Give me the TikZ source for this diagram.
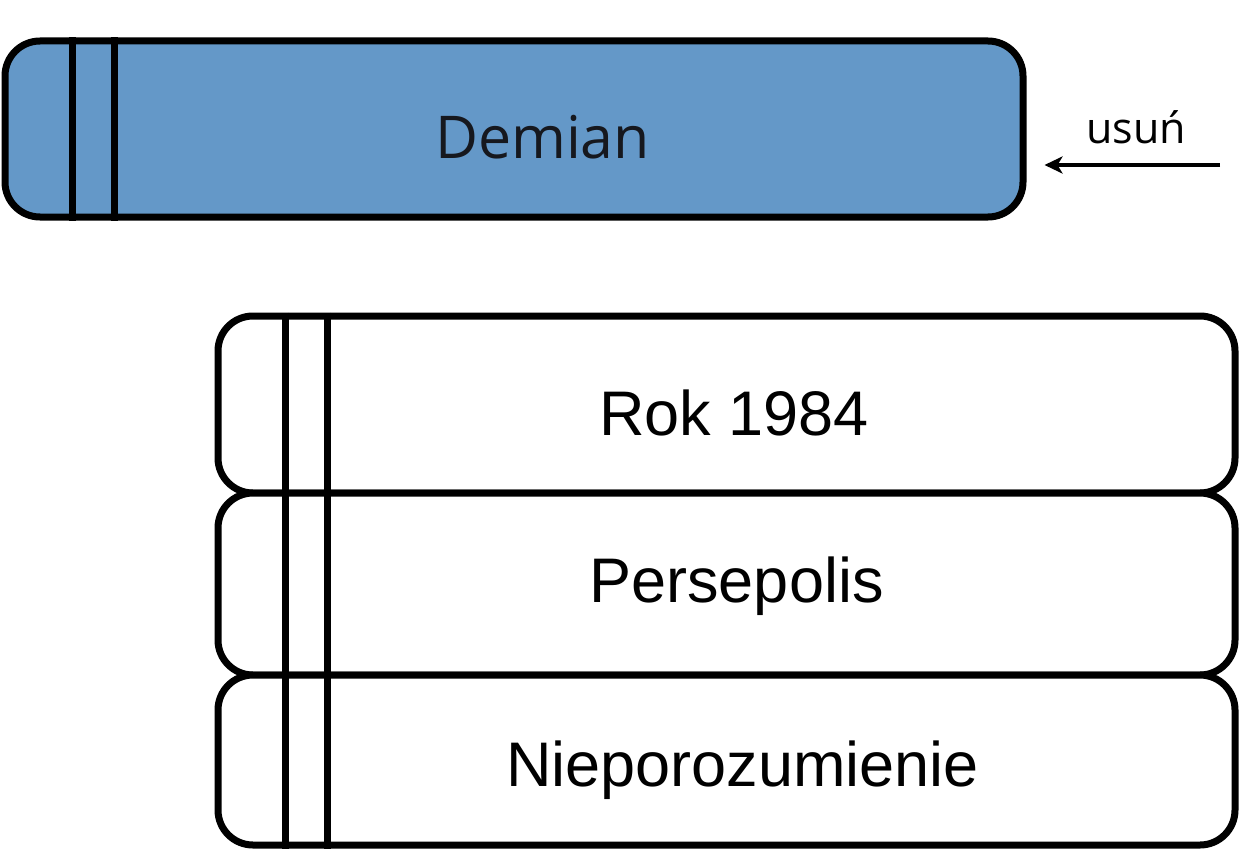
\documentclass[tikz,border=0pt]{standalone}
\usepackage{fontspec}
\setmainfont{Liberation Sans}
\newfontfamily\segoe{Open Sans}
\usetikzlibrary{arrows.meta}
\definecolor{bookblue}{RGB}{100,152,200}
\definecolor{darktext}{RGB}{22,24,30}
\tikzset{
  book/.style={draw=black, line width=7pt, rounded corners=35pt, inner sep=0pt, minimum width=1017pt},
  spine/.style={draw=black, line width=7pt},
  title/.style={anchor=base, inner sep=0pt, font=\fontsize{63}{70}\selectfont},
  arrowline/.style={draw=black, line width=3.5pt, -{Stealth[length=18pt,width=17pt,inset=5pt]}}
}
\begin{document}
\begin{tikzpicture}[x=1pt,y=-1pt]
\useasboundingbox (0,0) rectangle (1241,848);
% top book
\node[book, fill=bookblue, minimum width=1018pt, minimum height=176pt] (demian) at (514,129) {};
\draw[spine] (demian.north -| 72,0) -- (demian.south -| 72,0);
\draw[spine] (demian.north -| 114,0) -- (demian.south -| 114,0);
\node[title, font=\segoe\fontsize{59}{66}\selectfont, text=darktext] (tdemian) at (542.5,158) {Demian};
% arrow
\coordinate (astart) at (1220,165);
\draw[arrowline, shorten >=18pt] (astart) -- (demian.east |- astart);
\node[anchor=base, inner sep=0pt, font=\segoe\fontsize{43}{50}\selectfont] (usun) at (1136,143) {usuń};
% stack
\node[book, fill=white, minimum height=177pt] (b1) at (726.5,404.5) {};
\node[book, fill=white, minimum height=182pt] (b2) at (726.5,584) {};
\node[book, fill=white, minimum height=170pt] (b3) at (726.5,760) {};
\foreach \b in {b1,b2,b3}{
  \draw[spine] (\b.north -| 285,0) -- (\b.south -| 285,0);
  \draw[spine] (\b.north -| 327,0) -- (\b.south -| 327,0);
}
\node[title] (t1) at (734,435) {Rok 1984};
\node[title] (t2) at (736.5,602) {Persepolis};
\node[title] (t3) at (742.5,786) {Nieporozumienie};
\end{tikzpicture}
\end{document}
